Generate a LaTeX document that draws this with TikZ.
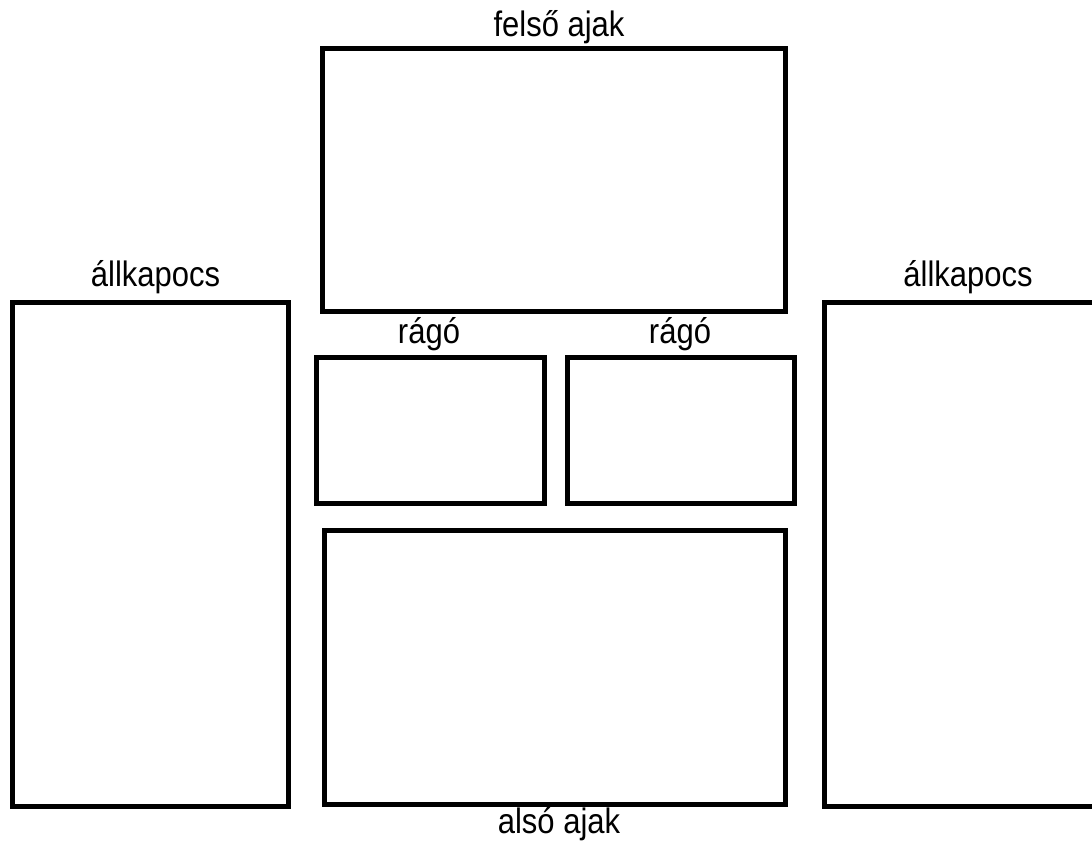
\documentclass[tikz,border=0pt]{standalone}
\usepackage{fontspec}
\setmainfont{Liberation Sans}
\newcommand{\tallcap}[1]{\scalebox{1}[1.14]{#1}}
\begin{document}
\begin{tikzpicture}[x=1pt,y=-1pt,
  panel/.style={draw=black,line width=5pt,fill=white},
  caption/.style={anchor=base,inner sep=0pt,font=\fontsize{31}{37}\selectfont}]
\useasboundingbox (0,0) rectangle (1092,845);
\clip (0,0) rectangle (1092,845);
\fill[white] (0,0) rectangle (1092,845);
% panels
\draw[panel] (322.5,49) rectangle (785.5,311);
\draw[panel] (12.5,302) rectangle (288.5,806);
\draw[panel] (824,302) rectangle (1110,806);
\draw[panel] (316,357.5) rectangle (544,503.5);
\draw[panel] (567,357.5) rectangle (794,503.5);
\draw[panel] (324,530) rectangle (785.5,804.5);
% labels
\node[caption] (felso) at (559,37) {\tallcap{felső ajak}};
\node[caption] (allL) at (155.5,286) {\tallcap{állkapocs}};
\node[caption] (allR) at (968,286) {\tallcap{állkapocs}};
\node[caption] (ragoL) at (429,343) {\tallcap{rágó}};
\node[caption] (ragoR) at (680,343) {\tallcap{rágó}};
\node[caption] (also) at (559,833) {\tallcap{alsó ajak}};
\end{tikzpicture}
\end{document}
